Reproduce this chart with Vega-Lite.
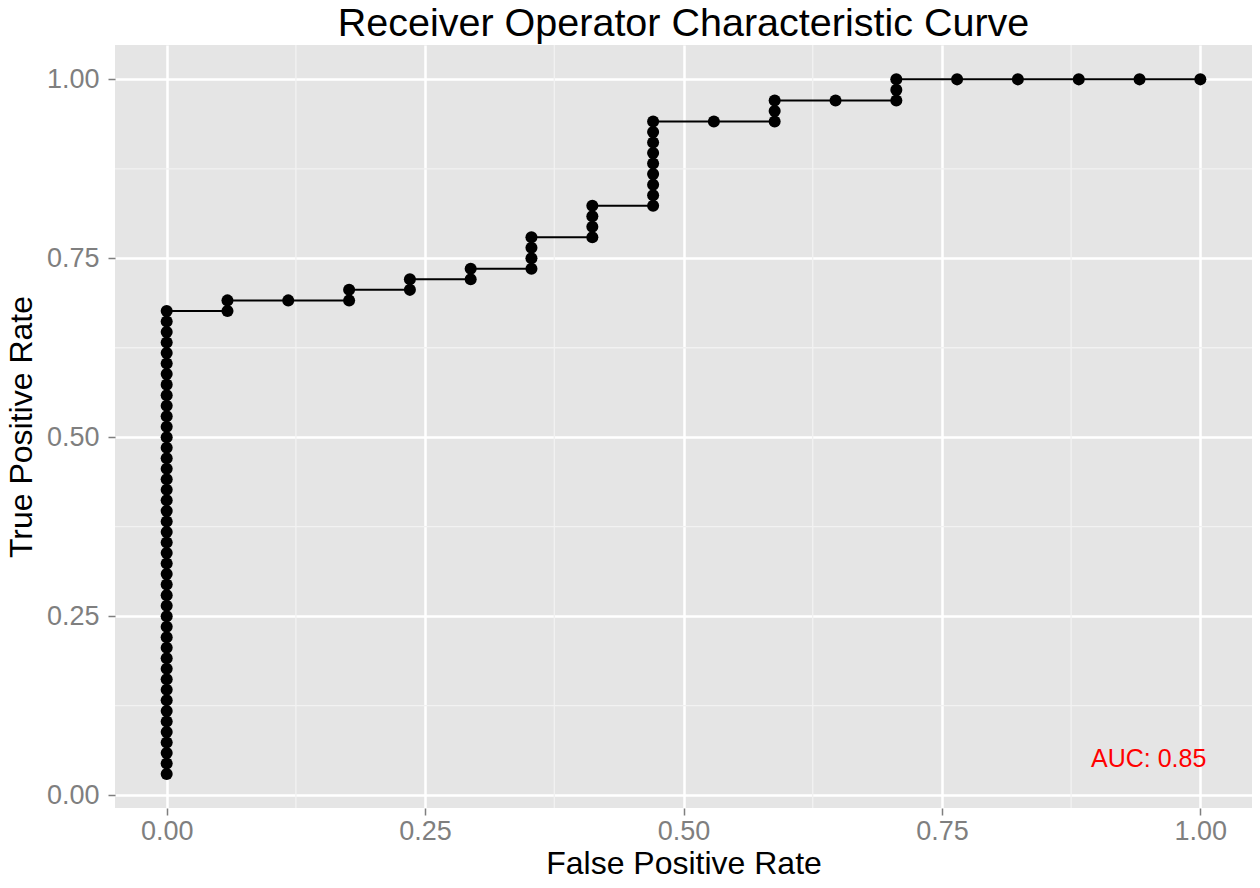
{
  "$schema": "https://vega.github.io/schema/vega-lite/v6.json",
  "width": 1137,
  "height": 763,
  "autosize": {"type": "none"},
  "padding": {"left": 115, "top": 45, "right": 8, "bottom": 80},
  "background": "white",
  "title": {"text": "Receiver Operator Characteristic Curve", "font": "Liberation Sans", "fontSize": 39.5, "fontWeight": "normal", "color": "black", "anchor": "middle", "offset": 0},
  "config": {
    "view": {"fill": "#E5E5E5", "stroke": null},
    "axis": {
      "labelFont": "Liberation Sans", "labelFontSize": 27, "labelColor": "#7F7F7F",
      "tickColor": "#7F7F7F", "tickSize": 7, "tickWidth": 1.5, "domain": false,
      "grid": true, "gridColor": "white", "gridWidth": 2.5,
      "titleFont": "Liberation Sans", "titleFontSize": 32, "titleFontWeight": "normal", "titleColor": "black"
    }
  },
  "datasets": {
    "roc": [
      {"fpr": 0, "tpr": 0.0294}, {"fpr": 0, "tpr": 0.0441}, {"fpr": 0, "tpr": 0.0588}, {"fpr": 0, "tpr": 0.0735},
      {"fpr": 0, "tpr": 0.0882}, {"fpr": 0, "tpr": 0.1029}, {"fpr": 0, "tpr": 0.1176}, {"fpr": 0, "tpr": 0.1324},
      {"fpr": 0, "tpr": 0.1471}, {"fpr": 0, "tpr": 0.1618}, {"fpr": 0, "tpr": 0.1765}, {"fpr": 0, "tpr": 0.1912},
      {"fpr": 0, "tpr": 0.2059}, {"fpr": 0, "tpr": 0.2206}, {"fpr": 0, "tpr": 0.2353}, {"fpr": 0, "tpr": 0.25},
      {"fpr": 0, "tpr": 0.2647}, {"fpr": 0, "tpr": 0.2794}, {"fpr": 0, "tpr": 0.2941}, {"fpr": 0, "tpr": 0.3088},
      {"fpr": 0, "tpr": 0.3235}, {"fpr": 0, "tpr": 0.3382}, {"fpr": 0, "tpr": 0.3529}, {"fpr": 0, "tpr": 0.3676},
      {"fpr": 0, "tpr": 0.3824}, {"fpr": 0, "tpr": 0.3971}, {"fpr": 0, "tpr": 0.4118}, {"fpr": 0, "tpr": 0.4265},
      {"fpr": 0, "tpr": 0.4412}, {"fpr": 0, "tpr": 0.4559}, {"fpr": 0, "tpr": 0.4706}, {"fpr": 0, "tpr": 0.4853},
      {"fpr": 0, "tpr": 0.5}, {"fpr": 0, "tpr": 0.5147}, {"fpr": 0, "tpr": 0.5294}, {"fpr": 0, "tpr": 0.5441},
      {"fpr": 0, "tpr": 0.5588}, {"fpr": 0, "tpr": 0.5735}, {"fpr": 0, "tpr": 0.5882}, {"fpr": 0, "tpr": 0.6029},
      {"fpr": 0, "tpr": 0.6176}, {"fpr": 0, "tpr": 0.6324}, {"fpr": 0, "tpr": 0.6471}, {"fpr": 0, "tpr": 0.6618},
      {"fpr": 0, "tpr": 0.6765},
      {"fpr": 0.0588, "tpr": 0.6765}, {"fpr": 0.0588, "tpr": 0.6912},
      {"fpr": 0.1176, "tpr": 0.6912},
      {"fpr": 0.1765, "tpr": 0.6912}, {"fpr": 0.1765, "tpr": 0.7059},
      {"fpr": 0.2353, "tpr": 0.7059}, {"fpr": 0.2353, "tpr": 0.7206},
      {"fpr": 0.2941, "tpr": 0.7206}, {"fpr": 0.2941, "tpr": 0.7353},
      {"fpr": 0.3529, "tpr": 0.7353}, {"fpr": 0.3529, "tpr": 0.75}, {"fpr": 0.3529, "tpr": 0.7647}, {"fpr": 0.3529, "tpr": 0.7794},
      {"fpr": 0.4118, "tpr": 0.7794}, {"fpr": 0.4118, "tpr": 0.7941}, {"fpr": 0.4118, "tpr": 0.8088}, {"fpr": 0.4118, "tpr": 0.8235},
      {"fpr": 0.4706, "tpr": 0.8235}, {"fpr": 0.4706, "tpr": 0.8382}, {"fpr": 0.4706, "tpr": 0.8529}, {"fpr": 0.4706, "tpr": 0.8676},
      {"fpr": 0.4706, "tpr": 0.8824}, {"fpr": 0.4706, "tpr": 0.8971}, {"fpr": 0.4706, "tpr": 0.9118}, {"fpr": 0.4706, "tpr": 0.9265},
      {"fpr": 0.4706, "tpr": 0.9412},
      {"fpr": 0.5294, "tpr": 0.9412},
      {"fpr": 0.5882, "tpr": 0.9412}, {"fpr": 0.5882, "tpr": 0.9559}, {"fpr": 0.5882, "tpr": 0.9706},
      {"fpr": 0.6471, "tpr": 0.9706},
      {"fpr": 0.7059, "tpr": 0.9706}, {"fpr": 0.7059, "tpr": 0.9853}, {"fpr": 0.7059, "tpr": 1},
      {"fpr": 0.7647, "tpr": 1}, {"fpr": 0.8235, "tpr": 1}, {"fpr": 0.8824, "tpr": 1}, {"fpr": 0.9412, "tpr": 1},
      {"fpr": 1, "tpr": 1}
    ],
    "minor": [{"v": 0.125}, {"v": 0.375}, {"v": 0.625}, {"v": 0.875}],
    "auc": [{"x": 0.95, "y": 0.05, "label": "AUC: 0.85"}]
  },
  "layer": [
    {
      "data": {"name": "minor"},
      "mark": {"type": "rule", "color": "#F2F2F2", "strokeWidth": 1.3},
      "encoding": {"x": {"field": "v", "type": "quantitative", "scale": {"domain": [-0.05, 1.05], "nice": false, "zero": false},
              "axis": {"values": [0, 0.25, 0.5, 0.75, 1], "format": ".2f", "title": "False Positive Rate", "labelPadding": 3, "titlePadding": 4}}}
    },
    {
      "data": {"name": "minor"},
      "mark": {"type": "rule", "color": "#F2F2F2", "strokeWidth": 1.3},
      "encoding": {"y": {"field": "v", "type": "quantitative", "scale": {"domain": [-0.018, 1.048], "nice": false, "zero": false},
              "axis": {"values": [0, 0.25, 0.5, 0.75, 1], "format": ".2f", "title": "True Positive Rate", "labelPadding": 9, "titlePadding": 8}}}
    },
    {
      "data": {"name": "roc"},
      "mark": {"type": "line", "color": "black", "strokeWidth": 2},
      "encoding": {
        "x": {"field": "fpr", "type": "quantitative", "title": "False Positive Rate"},
        "y": {"field": "tpr", "type": "quantitative", "title": "True Positive Rate"},
        "order": [{"field": "tpr"}, {"field": "fpr"}]
      }
    },
    {
      "data": {"name": "roc"},
      "mark": {"type": "circle", "color": "black", "size": 145, "opacity": 1},
      "encoding": {
        "x": {"field": "fpr", "type": "quantitative", "title": "False Positive Rate"},
        "y": {"field": "tpr", "type": "quantitative", "title": "True Positive Rate"}
      }
    },
    {
      "data": {"name": "auc"},
      "mark": {"type": "text", "color": "#FF0000", "font": "Liberation Sans", "fontSize": 25, "align": "center", "baseline": "middle"},
      "encoding": {
        "x": {"field": "x", "type": "quantitative", "title": "False Positive Rate"},
        "y": {"field": "y", "type": "quantitative", "title": "True Positive Rate"},
        "text": {"field": "label"}
      }
    }
  ]
}
